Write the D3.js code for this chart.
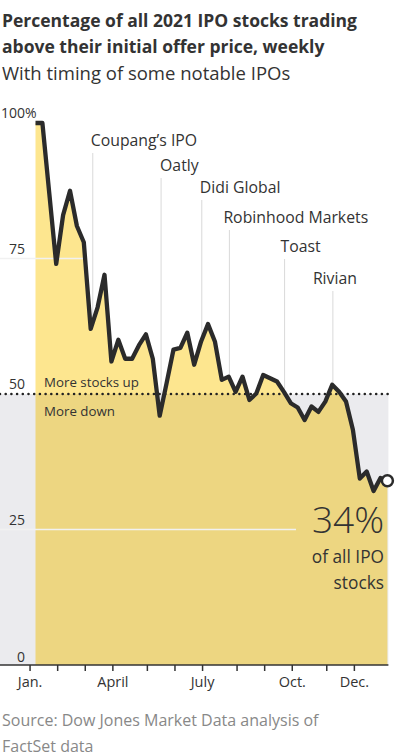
<!DOCTYPE html>
<html>
<head>
<meta charset="utf-8">
<script src="https://cdn.jsdelivr.net/npm/d3@7"></script>
<style>
  body { margin: 0; background: #fff; }
  svg text { font-family: "Open Sans", "Noto Sans", sans-serif; fill: #333; }
</style>
</head>
<body>
<svg id="chart" width="396" height="756"></svg>
<script>
// share of 2021 IPO stocks above offer price, one value per week (%)
const pctAbove = [100, 100, 87, 74, 83, 87.5, 81, 78, 62, 66, 72, 56, 60, 56.5, 56.5, 59, 61, 56.5,
  46, 52, 58.2, 58.5, 61.3, 55.4, 59.7, 62.9, 59.7, 52.6, 53.2, 50.4, 53.2, 48.9, 50.1, 53.5, 52.9,
  52.3, 50.4, 48.3, 47.5, 45.2, 47.7, 46.7, 48.6, 51.7, 50.4, 48.6, 43.4, 34.4, 35.7, 32.1, 34.5, 34];
// month ticks sit at the start of the first week of each month (in week units)
const monthTickWeeks = [-0.86, 3.14, 7.14, 11.14, 16.14, 20.14, 24.14, 29.14, 33.14, 37.14, 42.14, 46.14];
const monthTickLabels = ["Jan.", "", "", "April", "", "", "July", "", "", "Oct.", "", "Dec."];
const yTicks = [0, 25, 50, 75, 100];
const gridTicks = [25, 75];
const ipoNames = ["Coupang’s IPO", "Oatly", "Didi Global", "Robinhood Markets", "Toast", "Rivian"];
const ipoWeeks = [8.3, 18.2, 24.1, 28.1, 36.1, 43.1];
const lastLabel = ["34%", "of all IPO", "stocks"];

// label placement for the IPO notes (baseline y, shift from the rule)
const ipoLabelPos = [[146, -2], [171, -1], [193, -2], [223, -6], [252, -4], [284, -20]];

const W = 396, H = 756;
const svg = d3.select("#chart");
const lightYellow = "#fde68f", darkYellow = "#edd681", belowGray = "#ebebee", ink = "#2b2b2b";

const x = d3.scaleLinear().domain([0, pctAbove.length - 1]).range([35.5, 387.4]);
const y = d3.scaleLinear().domain([0, 100]).range([665, 123]);
const right = x(pctAbove.length - 1) + 1;

// titles
svg.append("text").attr("x", 2).attr("y", 27).style("font-size", "17.5px").style("font-weight", 700)
  .text("Percentage of all 2021 IPO stocks trading");
svg.append("text").attr("x", 2).attr("y", 53).style("font-size", "17.5px").style("font-weight", 700)
  .text("above their initial offer price, weekly");
svg.append("text").attr("x", 2).attr("y", 80).style("font-size", "18.5px")
  .text("With timing of some notable IPOs");

const defs = svg.append("defs");
defs.append("clipPath").attr("id", "above").append("rect")
  .attr("x", 0).attr("y", 0).attr("width", W).attr("height", y(50));
defs.append("clipPath").attr("id", "below").append("rect")
  .attr("x", 0).attr("y", y(50)).attr("width", W).attr("height", y(0) - y(50));

const area = d3.area().x((d, i) => x(i)).y0(y(0)).y1(d => y(d));
const line = d3.line().x((d, i) => x(i)).y(d => y(d));

const gridClip = defs.append("clipPath").attr("id", "gridclip");
gridClip.append("path").attr("d", area(pctAbove));
gridClip.append("rect").attr("x", 0).attr("y", 0).attr("width", x(0)).attr("height", H);

// gray band for "more down"
svg.append("rect").attr("x", 0).attr("y", y(50)).attr("width", right).attr("height", y(0) - y(50))
  .attr("fill", belowGray);

svg.append("path").attr("d", area(pctAbove)).attr("fill", lightYellow).attr("clip-path", "url(#above)");
svg.append("path").attr("d", area(pctAbove)).attr("fill", darkYellow).attr("clip-path", "url(#below)");

// light gridlines, only inside the filled part and the left margin
svg.append("g").attr("clip-path", "url(#gridclip)")
  .selectAll("line").data(gridTicks).join("line")
  .attr("x1", 0).attr("x2", d => d === 25 ? 296 : right)
  .attr("y1", d => y(d)).attr("y2", d => y(d))
  .attr("stroke", "#f1f1f1").attr("stroke-width", 1.3);

// IPO rules and notes
const valueAt = w => {
  const i = Math.floor(w), t = w - i;
  return d3.interpolateNumber(pctAbove[i], pctAbove[Math.min(i + 1, pctAbove.length - 1)])(t);
};
const notes = svg.append("g");
ipoNames.forEach((name, k) => {
  const [ly, dx] = ipoLabelPos[k];
  const xx = x(ipoWeeks[k]);
  notes.append("line").attr("x1", xx).attr("x2", xx).attr("y1", ly + 7).attr("y2", y(valueAt(ipoWeeks[k])))
    .attr("stroke", "#d9d9d9").attr("stroke-width", 1);
  notes.append("text").attr("x", xx + dx).attr("y", ly).style("font-size", "15.8px").text(name);
});

// 50% divider
svg.append("line").attr("x1", 0).attr("x2", right).attr("y1", y(50)).attr("y2", y(50))
  .attr("stroke", "#222").attr("stroke-width", 2.6).attr("stroke-linecap", "round")
  .attr("stroke-dasharray", "0,5.7");
svg.append("text").attr("x", 44).attr("y", y(50) - 7).style("font-size", "13.3px").text("More stocks up");
svg.append("text").attr("x", 44).attr("y", y(50) + 22).style("font-size", "13.3px").text("More down");

svg.append("path").attr("d", line(pctAbove)).attr("fill", "none").attr("stroke", ink)
  .attr("stroke-width", 4.3).attr("stroke-linejoin", "round");
const last = pctAbove.length - 1;
svg.append("circle").attr("cx", x(last)).attr("cy", y(pctAbove[last])).attr("r", 5.5)
  .attr("fill", "#fff").attr("stroke", ink).attr("stroke-width", 2.5);

// final value callout
svg.append("text").attr("x", 384).attr("y", 533).attr("text-anchor", "end")
  .style("font-size", "37px").style("font-weight", 300).text(lastLabel[0]);
svg.append("text").attr("x", 384).attr("y", 563).attr("text-anchor", "end")
  .style("font-size", "17.3px").text(lastLabel[1]);
svg.append("text").attr("x", 384).attr("y", 589).attr("text-anchor", "end")
  .style("font-size", "17.3px").text(lastLabel[2]);

// y labels
const yl = svg.append("g");
yTicks.forEach(v => {
  yl.append("text").attr("x", 25).attr("y", y(v) - (v === 0 ? 3 : 5)).attr("text-anchor", "end")
    .style("font-size", "14px").text(v);
  if (v === 100) yl.append("text").attr("x", 25).attr("y", y(v) - 5).style("font-size", "14px").text("%");
});

// x axis
const xAxis = d3.axisBottom(x).tickValues(monthTickWeeks).tickFormat((d, i) => monthTickLabels[i])
  .tickSize(6).tickPadding(6);
const ax = svg.append("g").attr("transform", `translate(0,${y(0)})`).call(xAxis);
ax.select(".domain").remove();
ax.selectAll(".tick line").attr("stroke", "#333").attr("stroke-width", 1.5);
ax.selectAll(".tick text").style("font-size", "14.5px").attr("fill", null);
ax.attr("font-family", null).attr("font-size", null);
svg.append("line").attr("x1", 0).attr("x2", right).attr("y1", y(0)).attr("y2", y(0))
  .attr("stroke", "#333").attr("stroke-width", 1.5);

// source
svg.append("text").attr("x", 2).attr("y", 726).style("font-size", "16px").style("fill", "#888")
  .text("Source: Dow Jones Market Data analysis of");
svg.append("text").attr("x", 2).attr("y", 752).style("font-size", "16px").style("fill", "#888")
  .text("FactSet data");
</script>
</body>
</html>
